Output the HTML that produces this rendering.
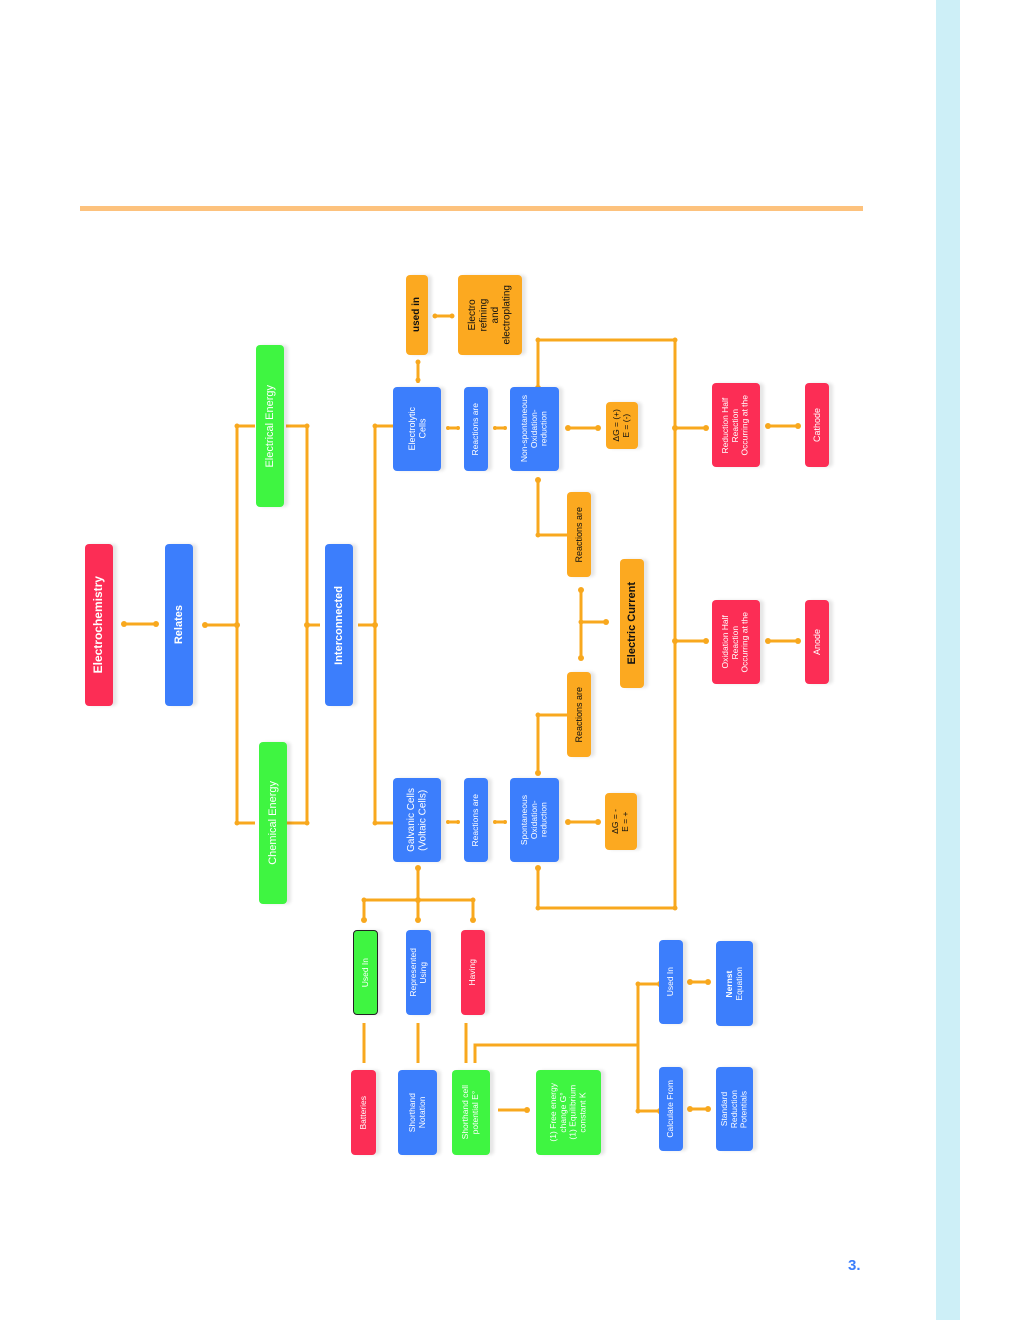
<!DOCTYPE html>
<html><head><meta charset="utf-8">
<style>
html,body{margin:0;padding:0;background:#fff;}
#pg{position:relative;width:1020px;height:1320px;overflow:hidden;background:#fff;font-family:"Liberation Sans",Arial,sans-serif;}
.b{position:absolute;display:flex;align-items:center;justify-content:center;border-radius:4px;color:#fff;box-shadow:4px 0 3px rgba(0,0,0,0.10);box-sizing:border-box;}
.b span{writing-mode:vertical-rl;transform:rotate(180deg);text-align:center;line-height:1.15;white-space:nowrap;}
.r{background:#fc2d55}.bl{background:#3c7efc}.g{background:#3ff541}.o{background:#fca920;color:#111}
svg{position:absolute;left:0;top:0}
</style></head><body><div id="pg">
<div style="position:absolute;left:80px;top:206px;width:783px;height:5px;background:#fdc27d"></div>
<div style="position:absolute;left:936px;top:0;width:24px;height:1320px;background:#cdeff7"></div>
<div style="position:absolute;left:848px;top:1257px;font-weight:bold;font-size:15px;color:#3c7efc">3.</div>

<svg width="1020" height="1320" stroke="#f8a81e" stroke-width="3" fill="none">
<g>
<path d="M124 624H156"/>
<path d="M205 625H237M237 426V823M237 426H255M237 823H255"/>
<path d="M286 426H307M286 823H307M307 426V823M307 625H320"/>
<path d="M358 625H375M375 426V823M375 426H393M375 823H393"/>
<path d="M448 428H458M495 428H505M568 428H598"/>
<path d="M448 822H458M495 822H505M568 822H598"/>
<path d="M418 362V383M435 316H452"/>
<path d="M538 388V340H675V908H538V868M675 428H706M675 641H706"/>
<path d="M768 426H798M768 641H798"/>
<path d="M538 480V535H567M538 773V715H567"/>
<path d="M581 590V658M581 622H606"/>
<path d="M418 868V900M364 900H473M364 900V920M418 900V920M473 900V920"/>
<path d="M364 1023V1063M418 1023V1063M466 1023V1063M475 1063V1045H638M638 984V1111M638 984H660M638 1111H660"/>
<path d="M498 1110H527M690 982H708M690 1109H708"/>
</g>
<g fill="#f8a81e" stroke="none">
<circle cx="124" cy="624" r="3"/><circle cx="156" cy="624" r="3"/>
<circle cx="205" cy="625" r="3"/><circle cx="237" cy="625" r="3"/><circle cx="237" cy="426" r="2.5"/><circle cx="237" cy="823" r="2.5"/>
<circle cx="307" cy="426" r="2.5"/><circle cx="307" cy="823" r="2.5"/><circle cx="307" cy="625" r="3"/>
<circle cx="375" cy="625" r="3"/><circle cx="375" cy="426" r="2.5"/><circle cx="375" cy="823" r="2.5"/>
<circle cx="448" cy="428" r="2"/><circle cx="458" cy="428" r="2"/><circle cx="495" cy="428" r="2"/><circle cx="505" cy="428" r="2"/><circle cx="568" cy="428" r="3"/><circle cx="598" cy="428" r="3"/>
<circle cx="448" cy="822" r="2"/><circle cx="458" cy="822" r="2"/><circle cx="495" cy="822" r="2"/><circle cx="505" cy="822" r="2"/><circle cx="568" cy="822" r="3"/><circle cx="598" cy="822" r="3"/>
<circle cx="418" cy="362" r="2.5"/><circle cx="418" cy="380" r="2.5"/><circle cx="435" cy="316" r="2.5"/><circle cx="452" cy="316" r="2.5"/>
<circle cx="538" cy="340" r="2.5"/><circle cx="675" cy="340" r="2.5"/><circle cx="538" cy="388" r="3"/><circle cx="675" cy="908" r="2.5"/><circle cx="538" cy="908" r="2.5"/><circle cx="538" cy="868" r="3"/>
<circle cx="675" cy="428" r="3"/><circle cx="706" cy="428" r="3"/><circle cx="675" cy="641" r="3"/><circle cx="706" cy="641" r="3"/>
<circle cx="768" cy="426" r="3"/><circle cx="798" cy="426" r="3"/><circle cx="768" cy="641" r="3"/><circle cx="798" cy="641" r="3"/>
<circle cx="538" cy="480" r="3"/><circle cx="538" cy="535" r="2.5"/><circle cx="538" cy="773" r="3"/><circle cx="538" cy="715" r="2.5"/>
<circle cx="581" cy="590" r="3"/><circle cx="581" cy="658" r="3"/><circle cx="581" cy="622" r="2.5"/><circle cx="606" cy="622" r="3"/>
<circle cx="418" cy="868" r="3"/><circle cx="418" cy="900" r="3"/><circle cx="364" cy="900" r="2.5"/><circle cx="473" cy="900" r="2.5"/>
<circle cx="364" cy="920" r="3"/><circle cx="418" cy="920" r="3"/><circle cx="473" cy="920" r="3"/>
<circle cx="638" cy="984" r="2.5"/><circle cx="660" cy="984" r="3"/><circle cx="638" cy="1111" r="2.5"/><circle cx="660" cy="1111" r="3"/>
<circle cx="527" cy="1110" r="3"/><circle cx="690" cy="982" r="3"/><circle cx="708" cy="982" r="3"/><circle cx="690" cy="1109" r="3"/><circle cx="708" cy="1109" r="3"/>
</g>
</svg>

<div class="b r" style="left:85px;top:544px;width:28px;height:162px;font-size:12px;font-weight:bold"><span>Electrochemistry</span></div>
<div class="b bl" style="left:165px;top:544px;width:28px;height:162px;font-size:11px;font-weight:bold"><span>Relates</span></div>
<div class="b g" style="left:256px;top:345px;width:28px;height:162px;font-size:11px"><span>Electrical Energy</span></div>
<div class="b g" style="left:259px;top:742px;width:28px;height:162px;font-size:11px"><span>Chemical Energy</span></div>
<div class="b bl" style="left:325px;top:544px;width:28px;height:162px;font-size:11px;font-weight:bold"><span>Interconnected</span></div>

<div class="b bl" style="left:393px;top:387px;width:48px;height:84px;font-size:9px"><span>Electrolytic<br>Cells</span></div>
<div class="b bl" style="left:393px;top:778px;width:48px;height:84px;font-size:10px"><span>Galvanic Cells<br>(Voltaic Cells)</span></div>
<div class="b bl" style="left:464px;top:387px;width:24px;height:84px;font-size:8.5px"><span>Reactions are</span></div>
<div class="b bl" style="left:464px;top:778px;width:24px;height:84px;font-size:8.5px"><span>Reactions are</span></div>
<div class="b bl" style="left:510px;top:387px;width:49px;height:84px;font-size:8.5px"><span>Non-spontaneous<br>Oxidation-<br>reduction</span></div>
<div class="b bl" style="left:510px;top:778px;width:49px;height:84px;font-size:8.5px"><span>Spontaneous<br>Oxidation-<br>reduction</span></div>
<div class="b o" style="left:606px;top:402px;width:32px;height:47px;font-size:8.5px"><span>ΔG = (+)<br>E = (-)</span></div>
<div class="b o" style="left:605px;top:793px;width:32px;height:57px;font-size:8.5px"><span>ΔG = -<br>E = +</span></div>
<div class="b o" style="left:406px;top:275px;width:22px;height:80px;font-size:10px;font-weight:bold"><span>used in</span></div>
<div class="b o" style="left:458px;top:275px;width:64px;height:80px;font-size:10px"><span>Electro<br>refining<br>and<br>electroplating</span></div>
<div class="b o" style="left:567px;top:492px;width:24px;height:85px;font-size:9px"><span>Reactions are</span></div>
<div class="b o" style="left:567px;top:672px;width:24px;height:85px;font-size:9px"><span>Reactions are</span></div>
<div class="b o" style="left:620px;top:559px;width:24px;height:129px;font-size:11px;font-weight:bold"><span>Electric Current</span></div>
<div class="b r" style="left:712px;top:383px;width:48px;height:84px;font-size:8.5px"><span>Reduction Half<br>Reaction<br>Occurring at the</span></div>
<div class="b r" style="left:712px;top:600px;width:48px;height:84px;font-size:8.5px"><span>Oxidation Half<br>Reaction<br>Occurring at the</span></div>
<div class="b r" style="left:805px;top:383px;width:24px;height:84px;font-size:9px"><span>Cathode</span></div>
<div class="b r" style="left:805px;top:600px;width:24px;height:84px;font-size:9px"><span>Anode</span></div>

<div class="b g" style="left:353px;top:930px;width:25px;height:85px;font-size:8.5px;border:1px solid #222"><span>Used In</span></div>
<div class="b bl" style="left:406px;top:930px;width:25px;height:85px;font-size:8.5px"><span>Represented<br>Using</span></div>
<div class="b r" style="left:461px;top:930px;width:24px;height:85px;font-size:8.5px"><span>Having</span></div>
<div class="b r" style="left:351px;top:1070px;width:25px;height:85px;font-size:8.5px"><span>Batteries</span></div>
<div class="b bl" style="left:398px;top:1070px;width:39px;height:85px;font-size:8.5px"><span>Shorthand<br>Notation</span></div>
<div class="b g" style="left:452px;top:1070px;width:38px;height:85px;font-size:8.5px"><span>Shorthand cell<br>potential E°</span></div>
<div class="b g" style="left:536px;top:1070px;width:65px;height:85px;font-size:8.5px"><span>(1) Free energy<br>change G°<br>(1) Equilibrium<br>constant K</span></div>
<div class="b bl" style="left:659px;top:940px;width:24px;height:84px;font-size:8.5px"><span>Used In</span></div>
<div class="b bl" style="left:716px;top:941px;width:37px;height:85px;font-size:8.5px"><span><b>Nernst</b><br>Equation</span></div>
<div class="b bl" style="left:659px;top:1067px;width:24px;height:84px;font-size:8.5px"><span>Calculate From</span></div>
<div class="b bl" style="left:716px;top:1067px;width:37px;height:84px;font-size:8.5px"><span>Standard<br>Reduction<br>Potentials</span></div>
</div></body></html>
